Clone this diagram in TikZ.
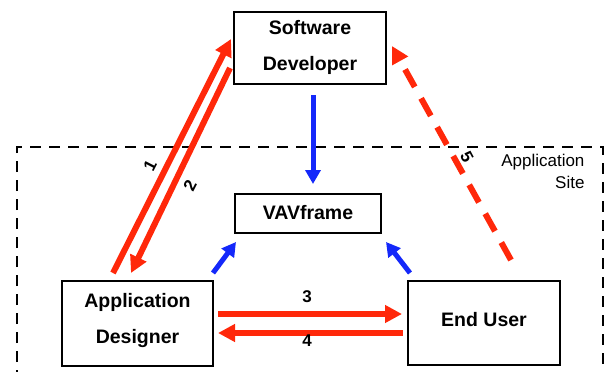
\documentclass[tikz,border=0pt]{standalone}
\usepackage{fontspec}
\setmainfont{Liberation Sans}
\usetikzlibrary{arrows.meta}
\definecolor{arrred}{RGB}{255,40,10}
\definecolor{arrblue}{RGB}{20,40,250}
\tikzset{
  box/.style={draw=black, line width=1.6pt, fill=white, inner sep=0pt},
  boxtext/.style={font=\fontsize{19.5}{36}\selectfont\bfseries, align=center,
    inner sep=0pt},
  redarrow/.style={draw=arrred, line width=6pt,
    -{Triangle[length=17pt,width=17pt]}},
  bluearrow/.style={draw=arrblue, line width=5pt,
    -{Triangle[length=14pt,width=15pt]}},
  num/.style={font=\fontsize{17}{17}\selectfont\bfseries, inner sep=0pt},
  site/.style={draw=black, line width=2.2pt, dash pattern=on 11pt off 8pt}
}
\begin{document}
\begin{tikzpicture}[x=1pt, y=-1pt]
\useasboundingbox (0,0) rectangle (606,372);
% application site boundary (runs off the lower edge)
\begin{scope}
\clip (0,0) rectangle (606,372);
\draw[site] (17,400) -- (17,147) -- (603,147) -- (603,400);
\end{scope}
\node[font=\fontsize{17}{22}\selectfont, align=right, anchor=north east]
  (sitelabel) at (588,151) {Application\\Site};
% boxes
\node[box, minimum width=152pt, minimum height=72pt] (dev) at (310,48) {};
\node[box, minimum width=146pt, minimum height=39pt] (vav) at (308,213.5) {};
\node[box, minimum width=151pt, minimum height=85pt] (des) at (137.5,323.5) {};
\node[box, minimum width=152pt, minimum height=84pt] (usr) at (484,323) {};
% box texts
\node[boxtext] (devtext) at (310,47) {Software\\Developer};
\node[boxtext] (vavtext) at (308,213) {VAVframe};
\node[boxtext] (destext) at (137.5,320) {Application\\Designer};
\node[boxtext] (usrtext) at (484,320) {End User};
% end points of the connectors
\coordinate (a1s) at (113,273);  \coordinate (a1e) at (231,39);
\coordinate (a2s) at (230,68);   \coordinate (a2e) at (131,273);
\coordinate (a3s) at (218,314);  \coordinate (a3e) at (402,314);
\coordinate (a4s) at (403,333);  \coordinate (a4e) at (218,333);
\coordinate (a5s) at (511,260);  \coordinate (a5e) at (392,46);
\coordinate (b1s) at (313,95);   \coordinate (b1e) at (313,184);
\coordinate (b2s) at (213,273);  \coordinate (b2e) at (236,242);
\coordinate (b3s) at (410,273);  \coordinate (b3e) at (386,242);
% connectors
\draw[redarrow] (a1s) -- (a1e);
\draw[redarrow] (a2s) -- (a2e);
\draw[redarrow] (a3s) -- (a3e);
\draw[redarrow] (a4s) -- (a4e);
\draw[redarrow, dash pattern=on 20pt off 13pt] (a5s) -- (a5e);
\draw[bluearrow] (b1s) -- (b1e);
\draw[bluearrow] (b2s) -- (b2e);
\draw[bluearrow] (b3s) -- (b3e);
% labels
\node[num, rotate=63] (n1) at (150,166) {1};
\node[num, rotate=63] (n2) at (190,186) {2};
\node[num] (n3) at (307,297) {3};
\node[num] (n4) at (307,341) {4};
\node[num, rotate=-62] (n5) at (467,157) {5};
\end{tikzpicture}
\end{document}
